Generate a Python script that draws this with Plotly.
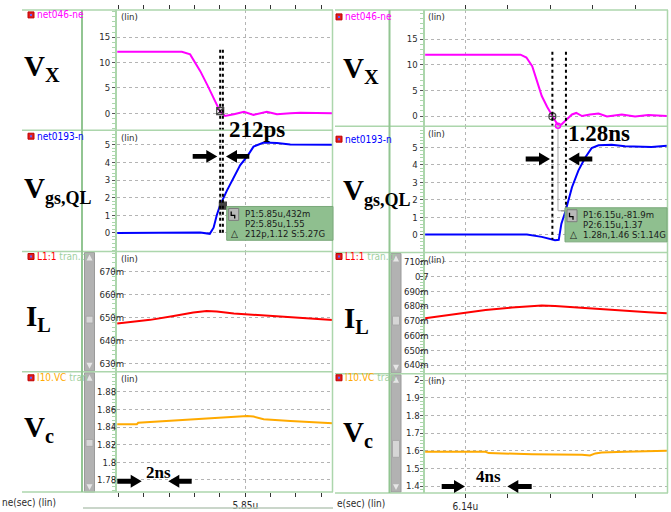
import plotly.graph_objects as go

W, H = 671, 512

# ------------------------------------------------------------------ data
# left capture (time in ns)
tL_vx = [5839.9, 5845.0, 5845.65, 5846.45, 5847.0, 5847.5, 5848.0, 5848.4, 5849.1,
         5849.9, 5850.65, 5851.7, 5852.5, 5853.55, 5854.35, 5856.9]
vL_vx = [12.1, 12.1, 11.6, 8.3, 5.6, 2.9, 0.43, -0.5, -0.2, 0.3, -0.3, 0.3, -0.2, 0.0, 0.1, 0.0]

tL_vgs = [5839.9, 5845.8, 5846.45, 5847.2, 5847.5, 5847.75, 5848.0, 5848.55, 5849.1,
          5849.6, 5850.15, 5850.65, 5851.45, 5852.5, 5853.55, 5856.9]
vL_vgs = [0.0, 0.05, 0.03, -0.05, 0.3, 1.0, 1.55, 2.4, 3.15, 3.85, 4.35, 4.9, 5.13, 5.1, 5.02, 5.0]

tL_il = [5839.9, 5842.5, 5844.35, 5845.9, 5846.95, 5847.75, 5849.1, 5850.65, 5852.5,
         5854.35, 5855.95, 5856.9]
vL_il = [0.6475, 0.6491, 0.6508, 0.6523, 0.6529, 0.6527, 0.6519, 0.6513, 0.6504,
         0.6497, 0.6493, 0.6490]

tL_vc = [5839.9, 5841.45, 5841.55, 5843.8, 5846.45, 5849.1, 5850.15, 5850.65, 5851.45,
         5853.55, 5855.4, 5856.9]
vL_vc = [1.8434, 1.8434, 1.845, 1.8472, 1.8498, 1.8517, 1.8528, 1.852, 1.849, 1.847,
         1.846, 1.8444]

# right capture (time in ns)
tR_vx = [6136.2, 6145.2, 6145.75, 6146.3, 6146.75, 6147.2, 6147.7, 6148.2, 6148.55,
         6148.85, 6149.4, 6150.05, 6150.45, 6151.0, 6151.75, 6152.55, 6153.35, 6154.75,
         6156.0, 6157.25, 6159.0]
vR_vx = [11.96, 11.96, 11.4, 9.7, 6.8, 3.9, 1.8, -0.08, -1.2, -2.05, -1.0, 0.3, 0.6,
         0.0, 0.3, 0.5, -0.1, 0.3, -0.1, 0.2, 0.0]

tR_vgs = [6136.2, 6145.8, 6147.2, 6148.45, 6148.8, 6149.05, 6149.45, 6150.05, 6150.65,
          6151.3, 6151.9, 6152.55, 6153.8, 6155.05, 6157.55, 6159.0]
vR_vgs = [0.0, 0.0, -0.13, -0.32, -0.3, 0.63, 1.37, 2.72, 3.67, 4.43, 4.96, 5.13, 5.15,
          5.07, 5.03, 5.1]

tR_il = [6136.2, 6138.75, 6141.9, 6144.4, 6147.2, 6148.45, 6150.35, 6152.85, 6155.05,
         6157.25, 6159.0]
vR_il = [0.6718, 0.6741, 0.6774, 0.6790, 0.6804, 0.6800, 0.6790, 0.6778, 0.6767,
         0.6758, 0.6752]

tR_vc = [6136.2, 6141.9, 6142.2, 6146.3, 6151.0, 6151.75, 6152.25, 6152.85, 6155.05, 6159.0]
vR_vc = [1.594, 1.594, 1.587, 1.58, 1.578, 1.573, 1.585, 1.59, 1.594, 1.6]

# cursors (time, value) : P1 on Vx, P2 on Vgs
curL_t = [5848.02, 5848.232]
curL_v = [0.432, 1.55]
curR_t = [6148.2, 6149.48]
curR_v = [-0.0819, 1.37]

# tick labels
xL_major, xL_label, xL_step = 5850, "5.85u", 2
xR_major, xR_label, xR_step = 6140, "6.14u", 4
yt_vx = [0, 5, 10, 15]
yt_vx_txt = ["0", "5", "10", "15"]
yt_vgs = [0, 1, 2, 3, 4, 5]
yt_vgs_txt = ["0", "1", "2", "3", "4", "5"]
ytL_il = [0.63, 0.64, 0.65, 0.66, 0.67]
ytL_il_txt = ["630m", "640m", "650m", "660m", "670m"]
ytL_vc = [1.78, 1.80, 1.82, 1.84, 1.86, 1.88]
ytL_vc_txt = ["1.78", "1.8", "1.82", "1.84", "1.86", "1.88"]
ytR_il = [0.64, 0.65, 0.66, 0.67, 0.68, 0.69, 0.70, 0.71]
ytR_il_txt = ["640m", "650m", "660m", "670m", "680m", "690m", "0.7", "710m"]
ytR_vc = [1.4, 1.5, 1.6, 1.7, 1.8, 1.9, 2.0]
ytR_vc_txt = ["1.4", "1.5", "1.6", "1.7", "1.8", "1.9", "2"]

box_L = ["P1:5.85u,432m", "P2:5.85u,1.55", "212p,1.12 S:5.27G"]
box_R = ["P1:6.15u,-81.9m", "P2:6.15u,1.37", "1.28n,1.46 S:1.14G"]

# ------------------------------------------------------------------ helpers
SANS = "DejaVu Sans Condensed, DejaVu Sans, sans-serif"
SERIF = "Liberation Serif, Times New Roman, serif"
GREEN = "#acd6ac"
GREEN_D = "#92c592"
TXT = "#2a2a2a"
MAG, BLUE, RED, ORANGE = "#ff00ff", "#0000ff", "#ff0000", "#ffaa00"


def X(px):
    return px / W


def Y(py):
    return 1 - py / H


fig = go.Figure()
layout = {}
shapes = []
anns = []

xcfg = {
    "L": dict(dom=(117, 332.5), rng=(5839.88, 5856.88), major=xL_major, label=xL_label, step=xL_step),
    "R": dict(dom=(424.5, 667), rng=(6136.14, 6159.01), major=xR_major, label=xR_label, step=xR_step),
}
rows = {
    "L": [(10, 131), (131, 253), (253, 374), (374, 495)],
    "R": [(10, 127), (127, 254), (254, 376), (376, 496)],
}
panels = [
    ("L", 0, tL_vx, vL_vx, MAG, (-3.33, 20.35), yt_vx, yt_vx_txt, 1, 0),
    ("L", 1, tL_vgs, vL_vgs, BLUE, (-1.055, 5.83), yt_vgs, yt_vgs_txt, 0.2, 0),
    ("L", 2, tL_il, vL_il, RED, (0.62656, 0.67876), ytL_il, ytL_il_txt, 0.002, -14),
    ("L", 3, tL_vc, vL_vc, ORANGE, (1.76609, 1.90296), ytL_vc, ytL_vc_txt, 0.004, -6),
    ("R", 0, tR_vx, vR_vx, MAG, (-1.996, 20.68), yt_vx, yt_vx_txt, 1, 0),
    ("R", 1, tR_vgs, vR_vgs, BLUE, (-1.027, 6.218), yt_vgs, yt_vgs_txt, 0.2, 0),
    ("R", 2, tR_il, vR_il, RED, (0.63416, 0.71626), ytR_il, ytR_il_txt, 0.002, -11),
    ("R", 3, tR_vc, vR_vc, ORANGE, (1.3605, 2.0354), ytR_vc, ytR_vc_txt, 0.02, -2),
]

axis_ids = {}
for i, (side, r, t, v, col, yr, tv, tt, mdt, stand) in enumerate(panels, start=1):
    xs = "" if i == 1 else str(i)
    axis_ids[(side, r)] = i
    xc = xcfg[side]
    y0, y1 = rows[side][r]
    show_ticks = r in (0, 3)
    layout["xaxis" + xs] = dict(
        domain=[X(xc["dom"][0]), X(xc["dom"][1])], range=list(xc["rng"]),
        anchor="y" + xs, side="top" if r == 0 else "bottom",
        tickmode="array", tickvals=[xc["major"]], ticktext=[xc["label"]],
        showticklabels=(r == 3), ticks="outside" if show_ticks else "",
        ticklen=4, tickcolor="#333", tickwidth=1,
        tickfont=dict(family=SANS, size=10, color=TXT),
        showgrid=True, gridcolor="#b4b4b4", griddash="dot", gridwidth=1,
        zeroline=False, showline=False, fixedrange=True,
        minor=dict(ticks="outside" if show_ticks else "", ticklen=4, tickcolor="#333",
                   tick0=xc["major"], dtick=xc["step"], showgrid=False),
    )
    layout["yaxis" + xs] = dict(
        domain=[Y(y1), Y(y0)], range=list(yr), anchor="x" + xs,
        tickmode="array", tickvals=tv, ticktext=tt,
        ticks="outside", ticklen=3, tickcolor="#555", ticklabelstandoff=stand,
        tickfont=dict(family=SANS, size=9.5, color=TXT),
        showgrid=True, gridcolor="#b4b4b4", griddash="dot", gridwidth=1,
        zeroline=False, showline=True, linecolor=GREEN, linewidth=2, fixedrange=True,
        minor=dict(ticks="outside", ticklen=3, tickcolor=GREEN, tick0=0, dtick=mdt,
                   showgrid=False),
    )
    fig.add_trace(go.Scatter(x=t, y=v, mode="lines", line=dict(color=col, width=2),
                             xaxis="x" + xs, yaxis="y" + xs, hoverinfo="skip",
                             showlegend=False))


def xa(side, r):
    i = axis_ids[(side, r)]
    return "" if i == 1 else str(i)


# cursor markers
for side, ct, cv, syms in (("L", curL_t, curL_v, ("square-x-open", "square")),
                            ("R", curR_t, curR_v, ("circle-cross-open", "cross-thin-open"))):
    for k in range(2):
        s = xa(side, k)
        fig.add_trace(go.Scatter(x=[ct[k]], y=[cv[k]], mode="markers",
                                 marker=dict(symbol=syms[k], size=7, color="#444",
                                             line=dict(color="#444", width=1.2)),
                                 xaxis="x" + s, yaxis="y" + s, hoverinfo="skip",
                                 showlegend=False))

# cursor dotted lines
for side, ct, (ya0, ya1) in (("L", curL_t, (50, 236)), ("R", curR_t, (52, 241))):
    s = xa(side, 0)
    for tc in ct:
        shapes.append(dict(type="line", xref="x" + s, yref="paper", x0=tc, x1=tc,
                           y0=Y(ya0), y1=Y(ya1), line=dict(color="black", width=2, dash="dot"),
                           layer="above"))


def hline(y, x0, x1, color=GREEN, w=1.5):
    shapes.append(dict(type="line", xref="paper", yref="paper", x0=X(x0), x1=X(x1),
                       y0=Y(y), y1=Y(y), line=dict(color=color, width=w), layer="above"))


def vline(x, y0, y1, color=GREEN, w=1.5):
    shapes.append(dict(type="line", xref="paper", yref="paper", x0=X(x), x1=X(x),
                       y0=Y(y0), y1=Y(y1), line=dict(color=color, width=w), layer="above"))


def rect(x0, y0, x1, y1, fill, line="rgba(0,0,0,0)", w=1, layer="above"):
    shapes.append(dict(type="rect", xref="paper", yref="paper", x0=X(x0), x1=X(x1),
                       y0=Y(y1), y1=Y(y0), fillcolor=fill, line=dict(color=line, width=w),
                       layer=layer))


def poly(pts, fill, line=None, w=1, closed=True, layer="above"):
    d = "M " + " L ".join(f"{X(a):.5f},{Y(b):.5f}" for a, b in pts) + (" Z" if closed else "")
    shapes.append(dict(type="path", xref="paper", yref="paper", path=d,
                       fillcolor=fill if closed else None,
                       line=dict(color=line or "rgba(0,0,0,0)", width=w), layer=layer))


def arrow(tip, tail, y, shaft=5, hh=13, hl=11):
    d = 1 if tip > tail else -1
    hb = tip - d * hl
    pts = [(tail, y - shaft / 2), (hb, y - shaft / 2), (hb, y - hh / 2), (tip, y),
           (hb, y + hh / 2), (hb, y + shaft / 2), (tail, y + shaft / 2)]
    poly(pts, "black")


def text(x, y, s, size=10, color=TXT, family=SANS, xanchor="left", yanchor="middle",
         weight="normal"):
    anns.append(dict(x=X(x), y=Y(y), xref="paper", yref="paper", text=s, showarrow=False,
                     xanchor=xanchor, yanchor=yanchor,
                     font=dict(family=family, size=size, color=color, weight=weight)))


# frames
for side, x0, x1, xs_bar in (("L", 22, 333, 82), ("R", 335, 668, 389.5)):
    rr = rows[side]
    ys = [rr[0][0]] + [b for _, b in rr]
    for yy in ys:
        hline(yy, x0, x1)
    vline(xs_bar, ys[0], ys[-1], GREEN_D, 2)
    vline(x1 - 0.5, ys[0], ys[-1], GREEN, 1.5)
hline(511, 83, 333, "#b8c8b8", 1.5)

# scrollbars (below the axis labels)
for bx, segs, thumbs in ((84.5, [(254, 373), (375, 495)], [(318, 325), (442, 449)]),
                         (391, [(255, 375), (377, 495)], [(318, 327), (443, 460)])):
    for (sy0, sy1), (ty0, ty1) in zip(segs, thumbs):
        rect(bx, sy0, bx + 10, sy1, "#b2b2b2", "#9a9a9a", 1, layer="below")
        poly([(bx + 2, sy0 + 8), (bx + 8, sy0 + 8), (bx + 5, sy0 + 2)], "#e6e6e6", layer="below")
        poly([(bx + 2, sy1 - 8), (bx + 8, sy1 - 8), (bx + 5, sy1 - 2)], "#e6e6e6", layer="below")
        rect(bx + 1.5, ty0, bx + 8.5, ty1, "#d6d6d6", "#a8a8a8", 1, layer="below")

# legends (truncated names) with icons
leg_rows = {"L": [15, 137, 258, 380], "R": [17, 140, 258, 380]}
leg_txt = [
    f"<span style='color:{MAG}'>net046-ne</span>",
    f"<span style='color:{BLUE}'>net0193-n</span>",
    f"<span style='color:{RED}'>L1:1</span><span style='color:#9fcf9f'> tran.tr</span>",
    f"<span style='color:{ORANGE}'>I10.VC</span><span style='color:#9fcf9f'> tran</span>",
]
for side, ix in (("L", 28), ("R", 336)):
    for k, yy in enumerate(leg_rows[side]):
        rect(ix, yy - 3, ix + 6, yy + 3, "#e02020", "#c00000", 1)
        rect(ix + 2, yy - 1, ix + 4, yy + 1, "#6060ff")
        text(ix + 7, yy, leg_txt[k], size=10)

# (lin) labels
for side, lx in (("L", 119), ("R", 426)):
    for k, (ry0, _) in enumerate(rows[side]):
        text(lx, ry0 + 7, "(lin)", size=9.5)

# big signal names
names = ["V<sub>X</sub>", "V<sub><span style='font-size:18px'>gs,QL</span></sub>",
         "I<sub>L</sub>", "V<sub>c</sub>"]
name_pos = {"L": [(22, 68), (22, 191), (24, 320), (22, 432)],
            "R": [(341, 70), (341, 193), (342, 322), (341, 437)]}
for side in ("L", "R"):
    for k, (nx, ny) in enumerate(name_pos[side]):
        text(nx, ny, names[k], size=29, color="black", family=SERIF, weight="bold")

# measurement labels
text(257, 130, "212ps", size=23, color="black", family=SERIF, xanchor="center", weight="bold")
text(599, 134, "1.28ns", size=23, color="black", family=SERIF, xanchor="center", weight="bold")
text(158, 475, "2ns", size=17, color="black", family=SERIF, xanchor="center", weight="bold")
text(488, 479, "4ns", size=17, color="black", family=SERIF, xanchor="center", weight="bold")

# arrows
arrow(217.3, 192.7, 157.3)
arrow(226, 249.3, 157.3)
arrow(550, 525.7, 160)
arrow(568.3, 592.3, 160)
arrow(141.7, 117.3, 484)
arrow(168.3, 191.7, 484)
arrow(465, 441.7, 489.3)
arrow(507.3, 531.7, 489.3)

# right cursor connector
poly([(558, 128), (558, 212), (566, 212)], None, "#aaaaaa", 1, closed=False)
shapes.append(dict(type="circle", xref="paper", yref="paper", x0=X(555.5), x1=X(560.5),
                   y0=Y(129), y1=Y(124), line=dict(color=MAG, width=1.5), layer="above"))

# measurement boxes
for (bx0, by0, bx1, by1), lines, tx in (((226.7, 207.7, 333, 241.7), box_L, 243),
                                        ((565, 209, 667, 243.3), box_R, 581)):
    rect(bx0, by0, bx1, by1, "#8fbf8f", "#7aa87a", 1)
    ix, iy = bx0 + 2, by0 + 2
    rect(ix, iy, ix + 10, iy + 12, "#b9b9b9", "#7d7d7d", 1)
    poly([(ix + 2.5, iy + 3), (ix + 2.5, iy + 7), (ix + 6, iy + 7), (ix + 6, iy + 10)],
         None, "black", 1.3, closed=False)
    step = (by1 - by0 - 4) / 3
    for k, s in enumerate(lines):
        text(tx, by0 + 2 + step * (k + 0.5), s, size=9.5, color="#1a1a1a")
    text(bx0 + 2.5, by0 + 2 + step * 2.5, "△", size=10, color="#1a1a1a")

# bottom axis captions
text(0, 505.5, "ne(sec) (lin)", size=10)
text(335, 506.5, "e(sec) (lin)", size=10)

fig.update_layout(
    width=W, height=H, margin=dict(l=0, r=0, t=0, b=0),
    paper_bgcolor="white", plot_bgcolor="white", showlegend=False,
    shapes=shapes, annotations=anns, **layout,
)
fig.write_html("out.html")
